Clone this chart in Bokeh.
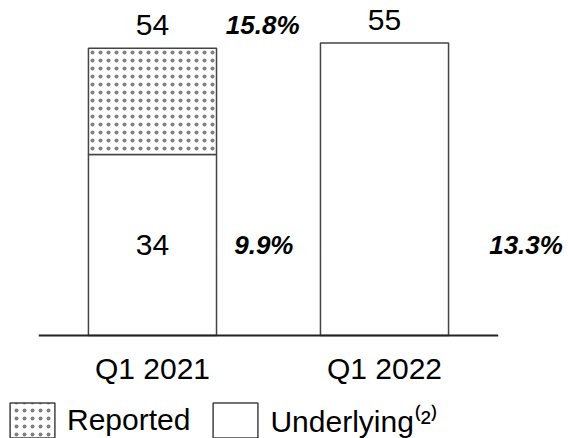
from bokeh.plotting import figure
from bokeh.models import Range1d, ColumnDataSource, Legend, LegendItem
from bokeh.core.properties import value
from bokeh.embed import file_html
from bokeh.resources import INLINE

# ---- data ----
categories = ["Q1 2021", "Q1 2022"]
underlying = [34, 55]
reported = [54, None]
margin_labels = ["15.8%", "9.9%", "13.3%"]

FONT = "Liberation Sans"
xs = list(range(len(categories)))
BAR_W = 0.552

p = figure(width=568, height=438, output_backend="svg", toolbar_location=None,
           x_range=Range1d(-0.655, 1.793), y_range=Range1d(-19.36, 62.97),
           x_axis_type=None, y_axis_type=None, min_border=0,
           outline_line_color=None)
p.grid.visible = False

# underlying bars (white)
src_u = ColumnDataSource(dict(x=xs, top=underlying))
r_u = p.vbar(x="x", top="top", bottom=0, width=BAR_W, source=src_u,
             fill_color="white", line_color="#444444", line_width=1.5)

# reported increment (dotted)
rep_x = [x for x, r in zip(xs, reported) if r is not None]
rep_b = [u for u, r in zip(underlying, reported) if r is not None]
rep_t = [r for r in reported if r is not None]
src_r = ColumnDataSource(dict(x=rep_x, bottom=rep_b, top=rep_t))
r_r = p.vbar(x="x", top="top", bottom="bottom", width=BAR_W, source=src_r,
             fill_color="white", hatch_pattern="dot", hatch_color="black",
             hatch_scale=8, hatch_alpha=0.5,
             line_color="#444444", line_width=1.5)

# baseline
p.segment(x0=[xs[0] - 0.49], y0=[0], x1=[xs[-1] + 0.49], y1=[0],
          line_color="#222222", line_width=2)

# totals above bars
totals = [r if r is not None else u for u, r in zip(underlying, reported)]
p.text(x=xs, y=totals, text=[str(t) for t in totals], text_align="center",
       text_baseline="alphabetic", y_offset=-23, text_font=value(FONT),
       text_font_size="30px", text_color="black")

# underlying value inside the stacked bar
in_x = [x for x, r in zip(xs, reported) if r is not None]
in_u = [u for u, r in zip(underlying, reported) if r is not None]
p.text(x=in_x, y=[u / 2 for u in in_u], text=[str(u) for u in in_u],
       text_align="center", text_baseline="alphabetic", y_offset=0,
       text_font=value(FONT), text_font_size="30px", text_color="black")

# category labels
p.text(x=xs, y=[0] * len(xs), text=categories, text_align="center",
       text_baseline="alphabetic", y_offset=33, text_font=value(FONT),
       text_font_size="30px", text_color="black")

# margin percentages
mid_row = underlying[0] / 2
pct_x = [xs[0] + 0.475, xs[0] + 0.48, xs[1] + 0.61]
pct_y = [reported[0], mid_row, mid_row]
pct_off = [-23, 0, 0]
p.text(x=pct_x, y=pct_y, text=margin_labels, text_align="center",
       text_baseline="alphabetic", y_offset=pct_off, text_font=value(FONT),
       text_font_size="26px", text_font_style="bold italic", text_color="black")

legend = Legend(items=[LegendItem(label="Reported", renderers=[r_r]),
                       LegendItem(label="Underlying\u207d\u00b2\u207e", renderers=[r_u])],
                location=(4, -4), orientation="horizontal",
                glyph_width=56, glyph_height=44, label_standoff=7, spacing=17,
                padding=0, margin=0, border_line_color=None,
                background_fill_alpha=0, label_text_font=FONT,
                label_text_font_size="30px", label_text_color="black")
p.add_layout(legend)

open("out.html", "w").write(file_html(p, INLINE))
